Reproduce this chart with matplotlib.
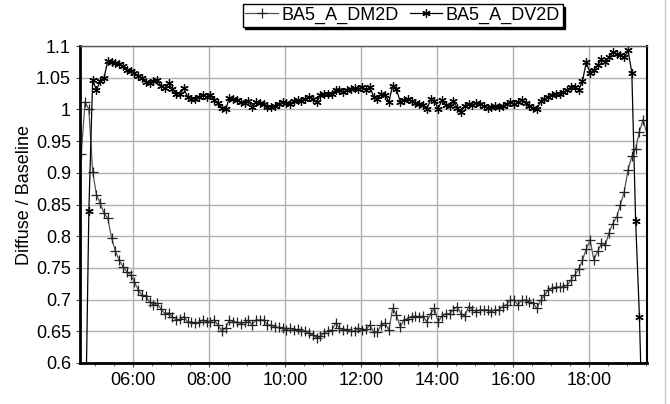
import matplotlib
matplotlib.use('Agg')
import matplotlib.pyplot as plt
import matplotlib.dates as mdates
from matplotlib.lines import Line2D
import pandas as pd

plt.rcParams['font.family'] = ['Liberation Sans', 'DejaVu Sans']

# sampling: one reading every 6 minutes starting 04:38
start_time = '2000-01-01 04:38'
step = '6min'

dm2d = [0.930, 1.012, 1.000, 0.902, 0.865, 0.852, 0.836, 0.828, 0.797, 0.776,
        0.762, 0.752, 0.744, 0.739, 0.728, 0.715, 0.707, 0.705, 0.697, 0.691,
        0.694, 0.685, 0.678, 0.679, 0.673, 0.668, 0.669, 0.673, 0.665, 0.665,
        0.663, 0.664, 0.668, 0.665, 0.665, 0.668, 0.660, 0.650, 0.655, 0.668,
        0.665, 0.665, 0.662, 0.664, 0.668, 0.660, 0.668, 0.668, 0.668, 0.660,
        0.660, 0.657, 0.656, 0.655, 0.652, 0.655, 0.652, 0.653, 0.650, 0.651,
        0.647, 0.644, 0.639, 0.642, 0.648, 0.651, 0.652, 0.663, 0.655, 0.652,
        0.653, 0.650, 0.651, 0.655, 0.652, 0.653, 0.660, 0.649, 0.649, 0.660,
        0.663, 0.652, 0.686, 0.676, 0.657, 0.668, 0.670, 0.673, 0.674, 0.673,
        0.674, 0.665, 0.678, 0.686, 0.665, 0.674, 0.678, 0.678, 0.684, 0.689,
        0.678, 0.674, 0.689, 0.684, 0.681, 0.684, 0.684, 0.684, 0.681, 0.684,
        0.684, 0.689, 0.692, 0.699, 0.699, 0.692, 0.699, 0.699, 0.696, 0.694,
        0.686, 0.699, 0.707, 0.715, 0.718, 0.720, 0.720, 0.720, 0.723, 0.731,
        0.739, 0.748, 0.762, 0.780, 0.794, 0.763, 0.776, 0.789, 0.786, 0.805,
        0.820, 0.830, 0.850, 0.870, 0.905, 0.926, 0.938, 0.965, 0.984, 0.960]

dv2d = [0.450, 0.450, 0.840, 1.047, 1.030, 1.045, 1.050, 1.077, 1.075, 1.073,
        1.071, 1.068, 1.062, 1.061, 1.058, 1.052, 1.050, 1.044, 1.041, 1.045,
        1.047, 1.037, 1.033, 1.041, 1.032, 1.025, 1.025, 1.033, 1.020, 1.017,
        1.017, 1.020, 1.023, 1.020, 1.023, 1.015, 1.010, 1.002, 1.000, 1.018,
        1.016, 1.015, 1.012, 1.010, 1.014, 1.004, 1.012, 1.010, 1.009, 1.004,
        1.004, 1.006, 1.009, 1.011, 1.010, 1.009, 1.013, 1.015, 1.013, 1.017,
        1.020, 1.017, 1.011, 1.023, 1.025, 1.024, 1.024, 1.030, 1.031, 1.028,
        1.030, 1.032, 1.033, 1.032, 1.036, 1.030, 1.036, 1.020, 1.017, 1.024,
        1.023, 1.012, 1.037, 1.032, 1.012, 1.015, 1.016, 1.013, 1.010, 1.008,
        1.007, 1.000, 1.016, 1.013, 1.001, 1.015, 1.007, 1.005, 1.013, 1.003,
        0.996, 1.006, 1.008, 1.007, 1.010, 1.008, 1.006, 1.003, 1.004, 1.005,
        1.004, 1.006, 1.008, 1.011, 1.008, 1.011, 1.015, 1.010, 1.006, 1.002,
        1.000, 1.013, 1.016, 1.020, 1.023, 1.024, 1.025, 1.027, 1.031, 1.035,
        1.036, 1.031, 1.045, 1.074, 1.058, 1.062, 1.070, 1.079, 1.075, 1.083,
        1.090, 1.087, 1.086, 1.082, 1.093, 1.058, 0.824, 0.673, 0.450, 0.450]

times = pd.date_range(start_time, periods=len(dm2d), freq=step)

fig = plt.figure(figsize=(6.7, 4.04), dpi=100)
ax = fig.add_axes([0.1194, 0.1015, 0.8463, 0.7846])

ax.plot(times, dm2d, color='#555555', lw=0.9, marker='+', markersize=7,
        markeredgecolor='#222222', markeredgewidth=0.9, label='BA5_A_DM2D')
ax.plot(times, dv2d, color='black', lw=0.9, marker=(6, 2, 0), markersize=6,
        markeredgecolor='black', markeredgewidth=0.9, label='BA5_A_DV2D')

ax.set_xlim(pd.Timestamp('2000-01-01 04:36'), pd.Timestamp('2000-01-01 19:32'))
ax.set_ylim(0.6, 1.1)
ax.set_yticks([0.6, 0.65, 0.7, 0.75, 0.8, 0.85, 0.9, 0.95, 1.0, 1.05, 1.1])
ax.yaxis.set_major_formatter(plt.FuncFormatter(lambda v, p: '%g' % round(v, 2)))

ax.xaxis.set_major_locator(mdates.HourLocator(byhour=range(6, 20, 2)))
ax.xaxis.set_major_formatter(mdates.DateFormatter('%H:%M'))
ax.xaxis.set_minor_locator(mdates.MinuteLocator(byminute=[0, 30]))

ax.grid(True, which='major', color='#b0b0b0', lw=1.0)
ax.set_axisbelow(True)
ax.tick_params(axis='both', which='major', labelsize=13, length=3, color='#444444')
ax.tick_params(axis='x', which='minor', length=2, color='#444444')

ax.spines['left'].set_linewidth(2)
ax.spines['bottom'].set_linewidth(2)
ax.spines['right'].set_linewidth(1.5)
ax.spines['top'].set_linewidth(1)
ax.spines['top'].set_color('#555555')

ax.set_ylabel('Diffuse / Baseline', fontsize=13)
ax.yaxis.set_label_coords(-0.083, 0.53)

ax.legend(loc='center', bbox_to_anchor=(0.601, 0.962), bbox_transform=fig.transFigure,
          ncol=2, fontsize=13, frameon=True, fancybox=False, edgecolor='black',
          framealpha=1, shadow={'color': 'black', 'alpha': 1},
          handlelength=1.8, handletextpad=0.2, columnspacing=0.6, borderpad=0.15,
          borderaxespad=0)

fig.add_artist(Line2D([0.993, 0.993], [0, 1], transform=fig.transFigure,
                      color='#d0d0d0', lw=1))

fig.savefig('out.png', dpi=100)
